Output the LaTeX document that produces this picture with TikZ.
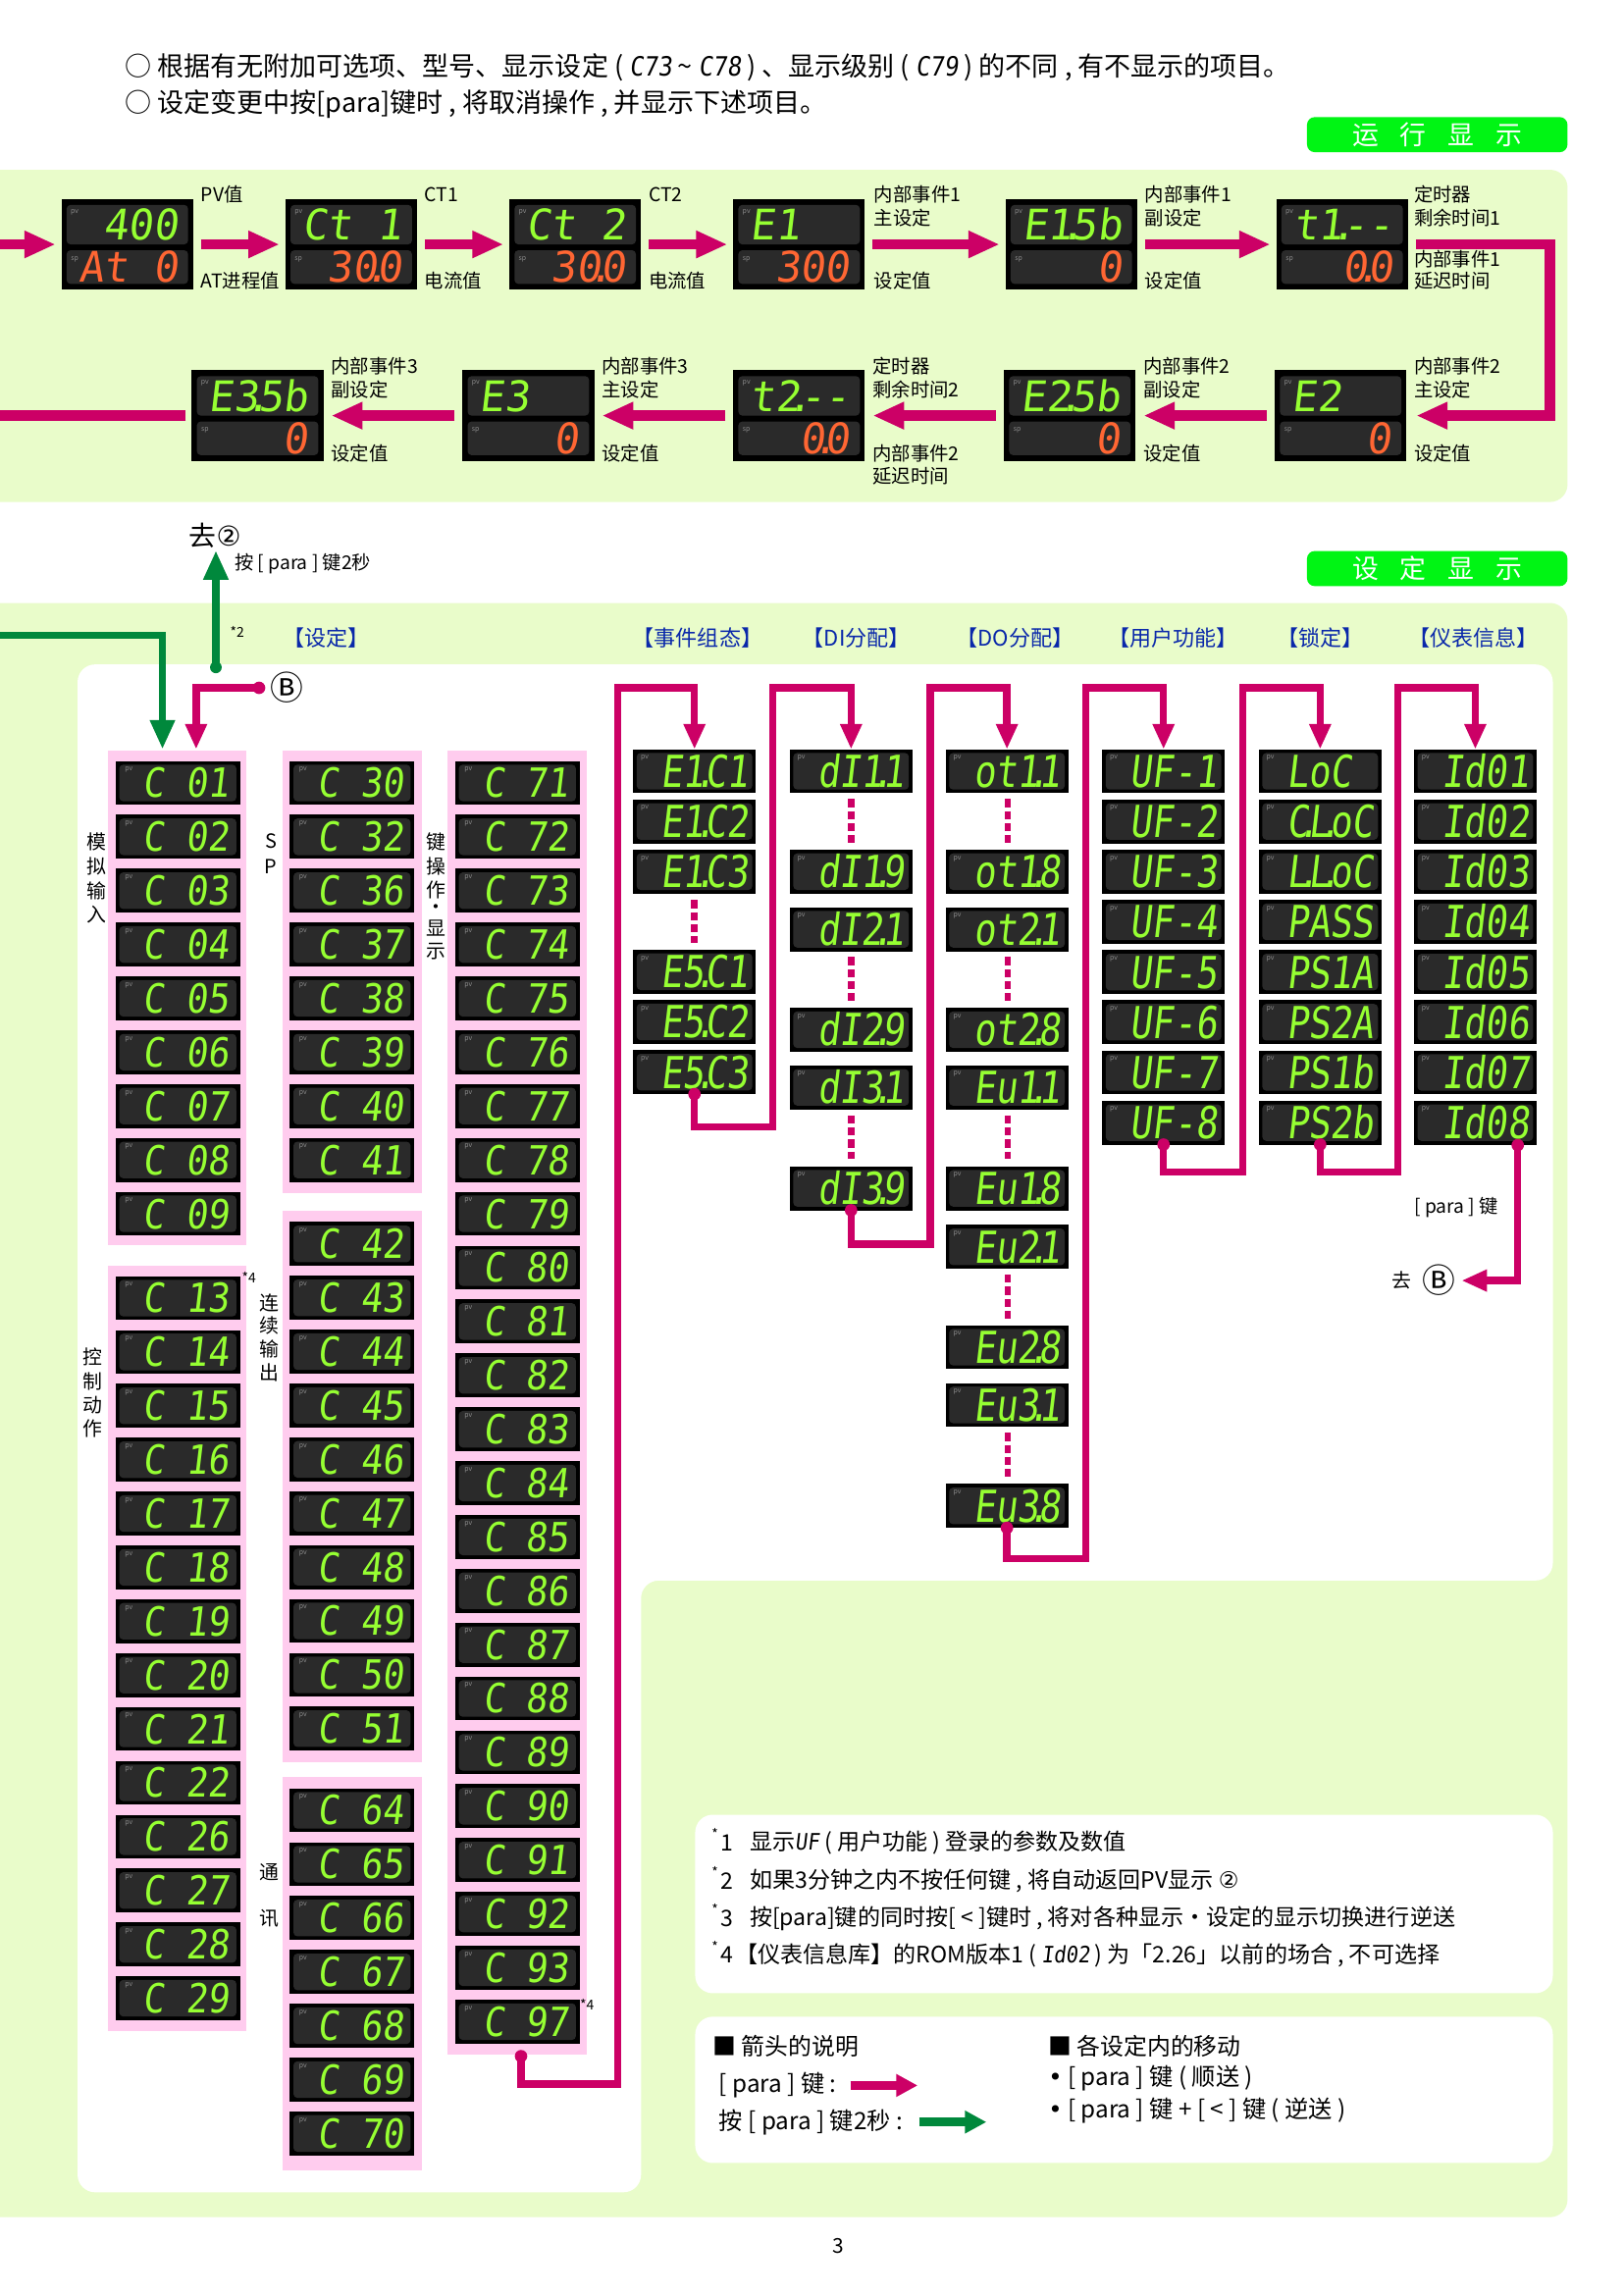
\documentclass[tikz,border=0pt]{standalone}
\usepackage{fontspec}
\setmainfont{Noto Sans CJK SC}
\newfontfamily\segC[FakeSlant=0.12,FakeStretch=0.89]{DejaVu Sans Mono}
\newfontfamily\segR[FakeSlant=0.12,FakeStretch=0.82]{DejaVu Sans Mono}
\newfontfamily\segB[FakeSlant=0.12,FakeStretch=0.98]{DejaVu Sans Mono}
\newfontfamily\symf{DejaVu Sans}
\newfontfamily\cjkf{Noto Sans CJK SC}
\usetikzlibrary{arrows.meta}

\definecolor{band}{RGB}{233,252,202}
\definecolor{ttlgreen}{RGB}{0,245,20}
\definecolor{mag}{RGB}{204,0,102}
\definecolor{grn}{RGB}{0,136,60}
\definecolor{pinkbg}{RGB}{255,204,238}
\definecolor{sgreen}{RGB}{150,255,50}
\definecolor{sorange}{RGB}{255,102,51}
\definecolor{hblue}{RGB}{10,40,170}
\definecolor{panelc}{RGB}{42,42,42}

\newcommand\bl{\phantom{0}}
\newcommand\sd{\makebox[0pt]{.}}

\tikzset{
  bbox/.style={anchor=north west,fill=black,minimum width=67.5pt,minimum height=46.5pt,inner sep=0pt,outer sep=0pt},
  cbox/.style={anchor=north west,fill=black,minimum width=63.75pt,minimum height=22.5pt,inner sep=0pt,outer sep=0pt},
  rbox/.style={anchor=north west,fill=black,minimum width=63pt,minimum height=22.5pt,inner sep=0pt,outer sep=0pt},
  pnl/.style={fill=panelc,rounded corners=2pt},
  pvlab/.style={text=black!45,font=\fontsize{3.5pt}{3.5pt}\selectfont,inner sep=0pt},
  segc/.style={anchor=base east,inner sep=0pt,text=sgreen,font=\segC\fontsize{20.6pt}{20.6pt}\selectfont},
  segr/.style={anchor=base east,inner sep=0pt,text=sgreen,font=\segR\fontsize{22.6pt}{22.6pt}\selectfont},
  segt/.style={anchor=base east,inner sep=0pt,text=sgreen,font=\segB\fontsize{21.6pt}{21.6pt}\selectfont},
  segbt/.style={anchor=base east,inner sep=0pt,text=sorange,font=\segB\fontsize{21.6pt}{21.6pt}\selectfont},
  toptxt/.style={anchor=west,inner sep=0pt,font=\fontsize{13.6pt}{14pt}\selectfont},
  ttl/.style={fill=ttlgreen,rounded corners=4pt,minimum width=133.5pt,minimum height=18pt,inner sep=0pt,text=white,font=\fontsize{13.5pt}{13.5pt}\selectfont},
  lbl/.style={anchor=west,inner sep=0pt,font=\fontsize{9.75pt}{11pt}\selectfont},
  hdr/.style={anchor=west,inner sep=0pt,text=hblue,font=\fontsize{11.1pt}{12pt}\selectfont},
  vt/.style={inner sep=0pt,font=\fontsize{10pt}{10pt}\selectfont},
  small/.style={anchor=west,inner sep=0pt,font=\fontsize{9.7pt}{10pt}\selectfont},
  star/.style={anchor=west,inner sep=0pt,font=\fontsize{7pt}{7pt}\selectfont},
  fnt/.style={anchor=west,inner sep=0pt,font=\fontsize{11.6pt}{12pt}\selectfont},
  lgt/.style={anchor=west,inner sep=0pt,font=\fontsize{12.2pt}{12.5pt}\selectfont},
  lgh/.style={anchor=west,inner sep=0pt,font=\fontsize{12pt}{13pt}\selectfont},
  circB/.style={inner sep=0pt,font=\cjkf\fontsize{17pt}{17pt}\selectfont},
  runarrow/.style={draw=mag,line width=5.25pt,-{Triangle[length=16pt,width=13pt]}},
  runline/.style={draw=mag,line width=5.25pt},
  magarr/.style={draw=mag,line width=3.75pt,-{Triangle[length=13pt,width=10.5pt]}},
  grnarr/.style={draw=grn,line width=3.75pt,-{Triangle[length=15pt,width=12pt]}},
  lgmag/.style={draw=mag,line width=4.5pt,-{Triangle[length=11pt,width=11pt]}},
  lggrn/.style={draw=grn,line width=4.5pt,-{Triangle[length=11pt,width=11pt]}},
  dotsline/.style={draw=mag,line width=3.3pt,dash pattern=on 4.2pt off 2pt},
}

% big run display: name, x, y, top, bottom
\newcommand{\dispB}[5]{%
  \node[bbox] (#1) at ({#2},{#3}) {};
  \fill[pnl] ({#2+3.5},{#3+4}) rectangle ({#2+86.5},{#3+31});
  \fill[pnl] ({#2+3.5},{#3+35}) rectangle ({#2+86.5},{#3+58});
  \node[pvlab] at ({#2+9},{#3+9}) {pv};
  \node[pvlab] at ({#2+9},{#3+41}) {sp};
  \node[segt] at ({#2+80},{#3+28}) {#4};
  \node[segbt] at ({#2+80},{#3+57}) {#5};
}
% C column display: name, x, y, number
\newcommand{\dispC}[4]{%
  \node[cbox] (#1) at ({#2},{#3}) {};
  \fill[pnl] ({#2+2.5},{#3+2.5}) rectangle ({#2+82.5},{#3+27.5});
  \node[pvlab] at ({#2+9},{#3+6}) {pv};
  \node[segc] at ({#2+78},{#3+25}) {C\bl #4};
}
% right column display: name, x, y, text
\newcommand{\dispR}[4]{%
  \node[rbox] (#1) at ({#2},{#3}) {};
  \fill[pnl] ({#2+2.5},{#3+2.5}) rectangle ({#2+81.5},{#3+27.5});
  \node[pvlab] at ({#2+8},{#3+6}) {pv};
  \node[segr] at ({#2+79},{#3+26}) {#4};
}

\begin{document}
\begin{tikzpicture}[x=0.75pt,y=-0.75pt]
\useasboundingbox (0,0) rectangle (1109,1568.2);
\fill[white] (0,0) rectangle (1109,1568.2);

% ---------- top text
\node[toptxt] (top1) at (85,46) {○ 根据有无附加可选项、型号、显示设定 ( {\segC C73} \textasciitilde\ {\segC C78} ) 、显示级别 ( {\segC C79} ) 的不同 , 有不显示的项目。};
\node[toptxt] (top2) at (85,71) {○ 设定变更中按[para]键时 , 将取消操作 , 并显示下述项目。};

\node[ttl] (ttl1) at (982,92) {运\kern11pt 行\kern11pt 显\kern11pt 示};

% ---------- run display band
\fill[band,rounded corners=9pt] (-30,116) rectangle (1071,343);

\dispB{r1a}{42}{136}{\bl 400}{At\bl 0}
\dispB{r1b}{195}{136}{Ct\bl 1}{\bl 30\sd 0}
\dispB{r1c}{348}{136}{Ct\bl 2}{\bl 30\sd 0}
\dispB{r1d}{501}{136}{E1\bl\bl}{\bl 300}
\dispB{r1e}{687}{136}{E1\sd 5b}{\bl\bl\bl 0}
\dispB{r1f}{872}{136}{t1\sd -{}-}{\bl\bl 0\sd 0}

\dispB{r2e}{871}{253}{E2\bl\bl}{\bl\bl\bl 0}
\dispB{r2d}{686}{253}{E2\sd 5b}{\bl\bl\bl 0}
\dispB{r2c}{501}{253}{t2\sd -{}-}{\bl\bl 0\sd 0}
\dispB{r2b}{316}{253}{E3\bl\bl}{\bl\bl\bl 0}
\dispB{r2a}{131}{253}{E3\sd 5b}{\bl\bl\bl 0}

% run arrows
\coordinate (runin) at (0,167);
\draw[runarrow] (runin) -- ([xshift=-3pt]r1a.west);
\draw[runarrow] ([xshift=4pt]r1a.east) -- ([xshift=-3pt]r1b.west);
\draw[runarrow] ([xshift=4pt]r1b.east) -- ([xshift=-3pt]r1c.west);
\draw[runarrow] ([xshift=4pt]r1c.east) -- ([xshift=-3pt]r1d.west);
\draw[runarrow] ([xshift=4pt]r1d.east) -- ([xshift=-3pt]r1e.west);
\draw[runarrow] ([xshift=4pt]r1e.east) -- ([xshift=-3pt]r1f.west);
\draw[runarrow] ([xshift=4pt]r1f.east) -| (1059,230) |- ([xshift=5pt]r2e.east);
\draw[runarrow] ([xshift=-4pt]r2e.west) -- ([xshift=4pt]r2d.east);
\draw[runarrow] ([xshift=-4pt]r2d.west) -- ([xshift=4pt]r2c.east);
\draw[runarrow] ([xshift=-4pt]r2c.west) -- ([xshift=4pt]r2b.east);
\draw[runarrow] ([xshift=-4pt]r2b.west) -- ([xshift=4pt]r2a.east);
\coordinate (runout) at (-5,284);
\draw[runline] ([xshift=-3pt]r2a.west) -- (runout);

% run labels
\node[lbl] (la1) at (137,133) {PV值};
\node[lbl] (la2) at (137,192) {AT进程值};
\node[lbl] (lb1) at (290,133) {CT1};
\node[lbl] (lb2) at (290,192) {电流值};
\node[lbl] (lc1) at (443,133) {CT2};
\node[lbl] (lc2) at (443,192) {电流值};
\node[lbl] (ld1) at (597,133) {内部事件1};
\node[lbl] (ld2) at (597,149) {主设定};
\node[lbl] (ld3) at (597,192) {设定值};
\node[lbl] (le1) at (782,133) {内部事件1};
\node[lbl] (le2) at (782,149) {副设定};
\node[lbl] (le3) at (782,192) {设定值};
\node[lbl] (lf1) at (966,133) {定时器};
\node[lbl] (lf2) at (966,149) {剩余时间1};
\node[lbl] (lf3) at (966,177) {内部事件1};
\node[lbl] (lf4) at (966,192) {延迟时间};

\node[lbl] (m1) at (966,250) {内部事件2};
\node[lbl] (m2) at (966,266) {主设定};
\node[lbl] (m3) at (966,310) {设定值};
\node[lbl] (n1) at (781,250) {内部事件2};
\node[lbl] (n2) at (781,266) {副设定};
\node[lbl] (n3) at (781,310) {设定值};
\node[lbl] (o1) at (596,250) {定时器};
\node[lbl] (o2) at (596,266) {剩余时间2};
\node[lbl] (o3) at (596,310) {内部事件2};
\node[lbl] (o4) at (596,325) {延迟时间};
\node[lbl] (p1) at (411,250) {内部事件3};
\node[lbl] (p2) at (411,266) {主设定};
\node[lbl] (p3) at (411,310) {设定值};
\node[lbl] (q1) at (226,250) {内部事件3};
\node[lbl] (q2) at (226,266) {副设定};
\node[lbl] (q3) at (226,310) {设定值};

% ---------- between bands
\node[inner sep=0pt,font=\fontsize{14pt}{14pt}\selectfont] (go2) at (147,366) {去{\symf ②}};
\node[small] (press2) at (160,385) {按 [ para ] 键2秒};
\node[ttl] (ttl2) at (982,388.5) {设\kern11pt 定\kern11pt 显\kern11pt 示};

% ---------- setting band
\fill[band,rounded corners=9pt] (-30,412) rectangle (1071,1515);
\fill[white,rounded corners=9pt] (53,454) -- (1061,454) -- (1061,1080) -- (438,1080) -- (438,1498) -- (53,1498) -- cycle;
\fill[white,rounded corners=9pt] (475,1240) rectangle (1061,1362);
\fill[white,rounded corners=9pt] (475,1378) rectangle (1061,1478);

\node[star] (st2) at (157,432) {*2};
\node[hdr] (h1) at (193,436) {【设定】};
\node[hdr] (h2) at (432,436) {【事件组态】};
\node[hdr] (h3) at (548,436) {【DI分配】};
\node[hdr] (h4) at (653,436) {【DO分配】};
\node[hdr] (h5) at (757,436) {【用户功能】};
\node[hdr] (h6) at (872,436) {【锁定】};
\node[hdr] (h7) at (962,436) {【仪表信息】};

% pink column backgrounds
\fill[pinkbg] (74,513) rectangle (168,851);
\fill[pinkbg] (74,865) rectangle (168,1388);
\fill[pinkbg] (193,513) rectangle (288,815);
\fill[pinkbg] (193,827) rectangle (288,1204);
\fill[pinkbg] (193,1214) rectangle (288,1483);
\fill[pinkbg] (306,513) rectangle (401,1404);

% C columns
\foreach \n [count=\i from 0] in {01,02,03,04,05,06,07,08,09}
  {\dispC{c\n}{79}{520+\i*36.8}{\n}}
\foreach \n [count=\i from 0] in {13,14,15,16,17,18,19,20,21,22,26,27,28,29}
  {\dispC{c\n}{79}{872+\i*36.8}{\n}}
\foreach \n [count=\i from 0] in {30,32,36,37,38,39,40,41}
  {\dispC{c\n}{198}{520+\i*36.8}{\n}}
\foreach \n [count=\i from 0] in {42,43,44,45,46,47,48,49,50,51}
  {\dispC{c\n}{198}{835+\i*36.8}{\n}}
\foreach \n [count=\i from 0] in {64,65,66,67,68,69,70}
  {\dispC{c\n}{198}{1222+\i*36.8}{\n}}
\foreach \n [count=\i from 0] in {71,72,73,74,75,76,77,78,79,80,81,82,83,84,85,86,87,88,89,90,91,92,93,97}
  {\dispC{c\n}{311}{520+\i*36.8}{\n}}

\node[star] (st4a) at (165,873) {*4};
\node[star] (st4b) at (396,1370) {*4};

% vertical labels
\foreach \ch/\yy [count=\i] in {模/575,拟/592,输/609,入/625}
  {\node[vt] (va\i) at (66,\yy) {\ch};}
\foreach \ch/\yy [count=\i] in {S/575,P/592}
  {\node[vt] (vb\i) at (185,\yy) {\ch};}
\foreach \ch/\yy [count=\i] in {键/575,操/592,作/608,・/621,显/634,示/650}
  {\node[vt] (vc\i) at (298,\yy) {\ch};}
\foreach \ch/\yy [count=\i] in {控/927,制/944,动/960,作/976}
  {\node[vt] (vd\i) at (63,\yy) {\ch};}
\foreach \ch/\yy [count=\i] in {连/890,续/906,输/922,出/938}
  {\node[vt] (ve\i) at (184,\yy) {\ch};}
\node[vt] (vf1) at (184,1279) {通};
\node[vt] (vf2) at (184,1311) {讯};

% right columns
\foreach \nm/\yy/\tx in {e11/512/E1\sd C1,e12/546.3/E1\sd C2,e13/580.6/E1\sd C3,e51/649/E5\sd C1,e52/683.3/E5\sd C2,e53/717.6/E5\sd C3}
  {\dispR{\nm}{432.5}{\yy}{\tx}}
\foreach \nm/\yy/\tx in {di11/512/dI1\sd 1,di19/580.6/dI1\sd 9,di21/620/dI2\sd 1,di29/688.6/dI2\sd 9,di31/728/dI3\sd 1,di39/797/dI3\sd 9}
  {\dispR{\nm}{539.5}{\yy}{\tx}}
\foreach \nm/\yy/\tx in {do11/512/ot1\sd 1,do18/580.6/ot1\sd 8,do21/620/ot2\sd 1,do28/688.6/ot2\sd 8,eu11/728/Eu1\sd 1,eu18/797/Eu1\sd 8,eu21/837/Eu2\sd 1,eu28/905.5/Eu2\sd 8,eu31/945/Eu3\sd 1,eu38/1014/Eu3\sd 8}
  {\dispR{\nm}{646}{\yy}{\tx}}
\foreach \k in {1,...,8}
  {\dispR{uf\k}{753}{512+(\k-1)*34.3}{UF-\k}}
\foreach \tx [count=\k] in {LoC\bl,C\sd L\sd oC,L\sd L\sd oC,PASS,PS1A,PS2A,PS1b,PS2b}
  {\dispR{loc\k}{860}{512+(\k-1)*34.3}{\tx}}
\foreach \k in {1,...,8}
  {\dispR{id0\k}{966}{512+(\k-1)*34.3}{Id0\k}}

% dotted continuations
\draw[dotsline] (474.5,615) -- (474.5,644);
\foreach \a in {546,654,762}
  {\draw[dotsline] (581.5,\a) -- (581.5,{\a+30});}
\foreach \a in {546,654,762,871,979}
  {\draw[dotsline] (688.5,\a) -- (688.5,{\a+30});}

% ---------- connectors in setting area
\coordinate (gstart) at (-5,434);
\draw[grnarr] (gstart) -| (111,512);
\coordinate (gdot) at (147.5,456);
\fill[grn] (gdot) circle (3pt);
\draw[grnarr] (gdot) -- ([yshift=-1pt]go2.south -| gdot);

\node[circB] (bcirc) at (196,470) {Ⓑ};
\coordinate (bdot) at (177,470);
\fill[mag] (bdot) circle (3.2pt);
\draw[magarr] (bdot) -| (134,512);

\coordinate (c97out) at (356,1405);
\fill[mag] (c97out) circle (3.2pt);
\draw[magarr] (c97out) |- (422,1424) -- (422,470) -| (e11.north);

\fill[mag] (e53.south) circle (3.2pt);
\draw[magarr] (e53.south) |- (528,770) -- (528,470) -| (di11.north);
\fill[mag] (di39.south) circle (3.2pt);
\draw[magarr] (di39.south) |- (635.5,850) -- (635.5,470) -| (do11.north);
\fill[mag] (eu38.south) circle (3.2pt);
\draw[magarr] (eu38.south) |- (742,1065) -- (742,470) -| (uf1.north);
\fill[mag] (uf8.south) circle (3.2pt);
\draw[magarr] (uf8.south) |- (849,801) -- (849,470) -| (loc1.north);
\fill[mag] (loc8.south) circle (3.2pt);
\draw[magarr] (loc8.south) |- (955,801) -- (955,470) -| (id01.north);

\node[inner sep=0pt,font=\fontsize{10pt}{10pt}\selectfont] (qu) at (958,875) {去};
\node[circB] (goB) at (983,875) {Ⓑ};
\coordinate (idout) at (1037,782.5);
\fill[mag] (idout) circle (3.2pt);
\draw[magarr,shorten >=3pt] (idout) |- (goB.east);
\node[small] (parakey) at (966,825) {[ para ] 键};

% ---------- footnotes
\node[star] (f1s) at (486,1253) {*};
\node[fnt] (f1n) at (492,1259) {1};
\node[fnt] (f1) at (512,1259) {显示{\segC UF} ( 用户功能 ) 登录的参数及数值};
\node[star] (f2s) at (486,1279) {*};
\node[fnt] (f2n) at (492,1285) {2};
\node[fnt] (f2) at (512,1285) {如果3分钟之内不按任何键 , 将自动返回PV显示 {\symf ②}};
\node[star] (f3s) at (486,1305) {*};
\node[fnt] (f3n) at (492,1311) {3};
\node[fnt] (f3) at (512,1311) {按[para]键的同时按[ < ]键时 , 将对各种显示・设定的显示切换进行逆送};
\node[star] (f4s) at (486,1330) {*};
\node[fnt] (f4n) at (492,1336) {4};
\node[fnt] (f4) at (502,1336) {【仪表信息库】的ROM版本1 ( {\segC Id02} ) 为「2.26」以前的场合 , 不可选择};

% ---------- legend
\node[lgh] (lg1) at (487,1398) {■ 箭头的说明};
\node[lgt] (lg2) at (491,1425) {[ para ] 键 : };
\coordinate (la) at (581,1425);
\coordinate (lb) at (627,1425);
\draw[lgmag] (la) -- (lb);
\node[lgt] (lg3) at (491,1450) {按 [ para ] 键2秒 : };
\coordinate (lc) at (628,1450);
\coordinate (ld) at (674,1450);
\draw[lggrn] (lc) -- (ld);
\node[lgh] (lg4) at (716,1398) {■ 各设定内的移动};
\node[lgt] (lg5) at (716,1420) {{\symf •} [ para ] 键 ( 顺送 )};
\node[lgt] (lg6) at (716,1442) {{\symf •} [ para ] 键 + [ < ] 键 ( 逆送 )};

\node[inner sep=0pt,font=\fontsize{10.5pt}{10.5pt}\selectfont] (pg) at (573,1535) {3};
\end{tikzpicture}
\end{document}
